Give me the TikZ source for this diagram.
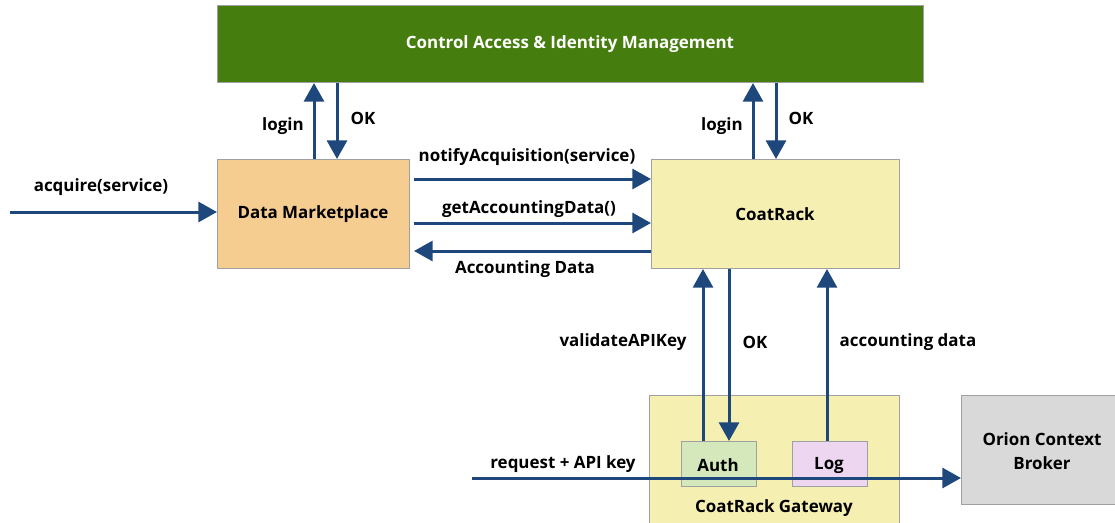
\documentclass[tikz,border=0pt]{standalone}
\usepackage{fontspec}
\setmainfont{Open Sans}
\usetikzlibrary{arrows.meta}

\definecolor{iamgreen}{RGB}{69,125,14}
\definecolor{dmorange}{RGB}{245,205,145}
\definecolor{cryellow}{RGB}{246,239,178}
\definecolor{authgreen}{RGB}{213,232,188}
\definecolor{logpink}{RGB}{236,214,240}
\definecolor{oriongray}{RGB}{217,217,217}
\definecolor{boxborder}{RGB}{160,160,160}
\definecolor{flowblue}{RGB}{30,72,124}

\tikzset{every picture/.style={line width=0.75pt}}
\tikzset{
  block/.style={draw=boxborder, rectangle, anchor=north west, inner sep=0pt},
  flow/.style={draw=flowblue, line width=2.25pt, -{Triangle[length=14pt,width=15pt]}},
  txt/.style={font=\fontsize{12.7}{17.5}\selectfont\bfseries, align=center, inner sep=0pt}
}

\begin{document}
\begin{tikzpicture}[x=0.75pt,y=0.75pt,yscale=-1,xscale=1]
%set diagram size 1115 x 522
\clip (0,0) rectangle (1115,522);

%Shape: Rectangle [caim]
\node [block, fill=iamgreen, minimum width=529.5pt, minimum height=57.75pt] (caim) at (217,5) {};
%Shape: Rectangle [dm]
\node [block, fill=dmorange, minimum width=144pt, minimum height=81.75pt] (dm) at (217,159) {};
%Shape: Rectangle [cr]
\node [block, fill=cryellow, minimum width=186pt, minimum height=81.75pt] (cr) at (651,159) {};
%Shape: Rectangle [gw]
\node [block, fill=cryellow, minimum width=187.5pt, minimum height=105pt] (gw) at (649,395) {};
%Shape: Rectangle [auth]
\node [block, fill=authgreen, minimum width=56.25pt, minimum height=33.75pt] (auth) at (681,441) {};
%Shape: Rectangle [log]
\node [block, fill=logpink, minimum width=56.25pt, minimum height=33.75pt] (log) at (792,441) {};
%Shape: Rectangle [orion]
\node [block, fill=oriongray, minimum width=121.5pt, minimum height=81.75pt] (orion) at (961,395) {};

% Text Node
\node [txt, text=white] (caimtxt) at (570,44) {Control Access \& Identity Management};
% Text Node
\node [txt] (dmtxt) at (313,214) {Data Marketplace};
% Text Node
\node [txt] (crtxt) at (775,214) {CoatRack};
% Text Node
\node [txt] (gwtxt) at (774,508) {CoatRack Gateway};
% Text Node
\node [txt] (authtxt) at (718,465) {Auth};
% Text Node
\node [txt] (logtxt) at (829,465) {Log};
% Text Node
\node [txt] (oriontxt) at (1042,451) {Orion Context\\Broker};

%free ends and x-positions of the vertical connectors
\coordinate (acqstart) at (10,212);
\coordinate (reqstart) at (472,478);
\coordinate (xlogin1) at (314,0);
\coordinate (xok1) at (337,0);
\coordinate (xlogin2) at (753,0);
\coordinate (xok2) at (776,0);
\coordinate (xvalid) at (703,0);
\coordinate (xok3) at (729,0);
\coordinate (xacc) at (827,0);
\coordinate (ynotify) at (0,179);
\coordinate (yget) at (0,223);
\coordinate (yaccdata) at (0,251);

%Arrows to and from caim
\draw [flow] (dm.north -| xlogin1) -- (caim.south -| xlogin1);
\draw [flow] (caim.south -| xok1) -- (dm.north -| xok1);
\draw [flow] (cr.north -| xlogin2) -- (caim.south -| xlogin2);
\draw [flow] (caim.south -| xok2) -- (cr.north -| xok2);

%Arrows between dm and cr
\draw [flow] (acqstart) -- (dm.west |- acqstart);
\draw [flow, shorten <=3pt] (dm.east |- ynotify) -- (cr.west |- ynotify);
\draw [flow, shorten <=3pt] (dm.east |- yget) -- (cr.west |- yget);
\draw [flow, shorten >=3pt] (cr.west |- yaccdata) -- (dm.east |- yaccdata);

%Arrows between gateway and cr
\draw [flow] (auth.north -| xvalid) -- (cr.south -| xvalid);
\draw [flow] (cr.south -| xok3) -- (auth.north -| xok3);
\draw [flow] (log.north -| xacc) -- (cr.south -| xacc);
\draw [flow] (reqstart) -- (orion.west |- reqstart);

% Text Node
\node [txt] (login1) at (283,126) {login};
% Text Node
\node [txt] (ok1) at (363,118) {OK};
% Text Node
\node [txt] (login2) at (722,126) {login};
% Text Node
\node [txt] (ok2) at (801,118) {OK};
% Text Node
\node [txt] (acquire) at (101,187) {acquire(service)};
% Text Node
\node [txt] (notify) at (527,157) {notifyAcquisition(service)};
% Text Node
\node [txt] (getacc) at (529,209) {getAccountingData()};
% Text Node
\node [txt] (accdata) at (525,269) {Accounting Data};
% Text Node
\node [txt] (validate) at (623,342) {validateAPIKey};
% Text Node
\node [txt] (ok3) at (755,342) {OK};
% Text Node
\node [txt] (accounting) at (908,342) {accounting data};
% Text Node
\node [txt] (request) at (563,464) {request + API key};

\end{tikzpicture}
\end{document}
